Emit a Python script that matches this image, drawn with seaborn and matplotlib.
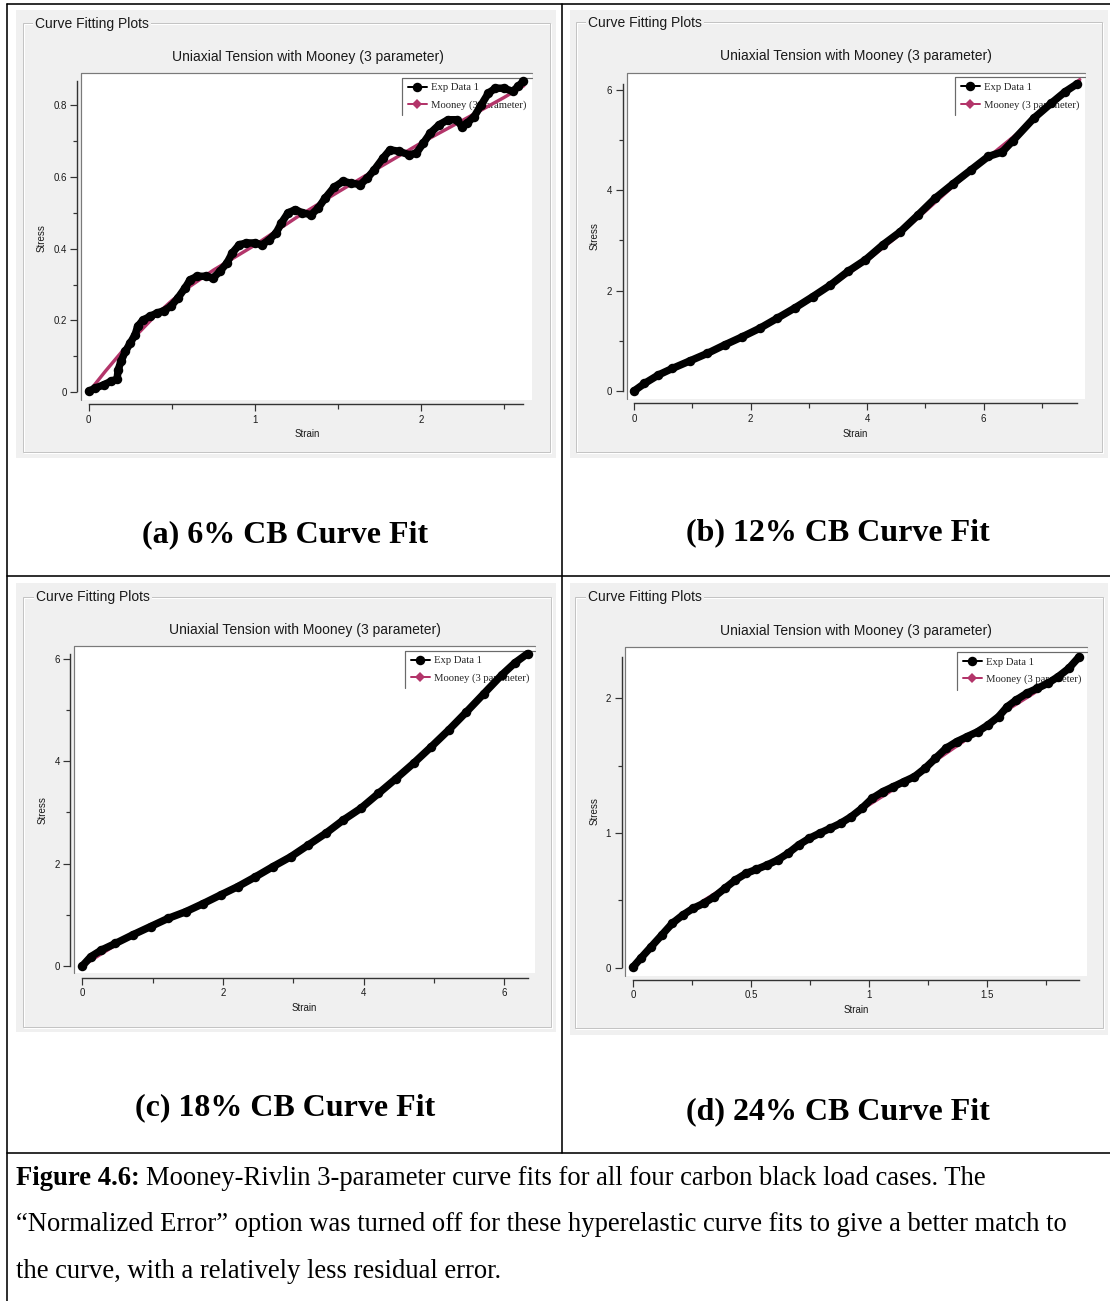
import matplotlib
matplotlib.use("Agg")
import matplotlib.pyplot as plt
from matplotlib.lines import Line2D
from matplotlib.patches import Rectangle
from matplotlib.ticker import MultipleLocator, FuncFormatter
import pandas as pd
import seaborn as sns

# ---------------------------------------------------------------- data
# 6% carbon black
strain_06 = [0, 0.04, 0.09, 0.135, 0.17, 0.177, 0.194, 0.22, 0.25, 0.279, 0.294, 0.325,
             0.367, 0.41, 0.452, 0.494, 0.536, 0.579, 0.61, 0.652, 0.705, 0.748, 0.79,
             0.832, 0.864, 0.906, 0.949, 1.0, 1.043, 1.086, 1.128, 1.16, 1.2, 1.244,
             1.286, 1.339, 1.381, 1.423, 1.476, 1.53, 1.58, 1.635, 1.677, 1.719, 1.772,
             1.814, 1.867, 1.93, 1.973, 2.015, 2.057, 2.11, 2.163, 2.216, 2.247, 2.279,
             2.321, 2.364, 2.406, 2.448, 2.5, 2.553, 2.585, 2.617]
stress_06 = [0.002, 0.011, 0.02, 0.03, 0.036, 0.062, 0.086, 0.113, 0.137, 0.16, 0.183, 0.2,
             0.211, 0.22, 0.227, 0.239, 0.262, 0.29, 0.313, 0.323, 0.323, 0.318, 0.337,
             0.36, 0.388, 0.411, 0.416, 0.416, 0.411, 0.425, 0.444, 0.472, 0.5, 0.509,
             0.5, 0.495, 0.513, 0.541, 0.571, 0.588, 0.583, 0.579, 0.597, 0.62, 0.653,
             0.676, 0.672, 0.662, 0.667, 0.695, 0.723, 0.746, 0.76, 0.76, 0.741, 0.751,
             0.769, 0.802, 0.834, 0.848, 0.848, 0.839, 0.853, 0.867]
fit_strain_06 = [0, 0.1, 0.2, 0.3, 0.4, 0.5, 0.6, 0.75, 1.0, 1.25, 1.5, 1.75, 2.0, 2.25, 2.5, 2.62]
fit_stress_06 = [0, 0.058, 0.113, 0.165, 0.213, 0.255, 0.292, 0.34, 0.41, 0.487, 0.558,
                 0.627, 0.695, 0.758, 0.822, 0.855]

# 12% carbon black
strain_12 = [0, 0.18, 0.42, 0.66, 0.96, 1.26, 1.56, 1.86, 2.16, 2.46, 2.77, 3.07, 3.37,
             3.67, 3.97, 4.27, 4.57, 4.87, 5.17, 5.48, 5.78, 6.08, 6.32, 6.5, 6.86, 7.16,
             7.4, 7.61]
stress_12 = [0, 0.15, 0.32, 0.45, 0.6, 0.75, 0.92, 1.08, 1.25, 1.45, 1.66, 1.88, 2.11,
             2.38, 2.61, 2.91, 3.17, 3.5, 3.84, 4.13, 4.4, 4.67, 4.76, 4.98, 5.43, 5.73,
             5.96, 6.12]
fit_strain_12 = [0, 0.5, 1, 1.5, 2, 2.5, 3, 3.5, 4, 4.5, 5, 5.5, 6, 6.5, 7, 7.65]
fit_stress_12 = [0, 0.34, 0.63, 0.9, 1.16, 1.47, 1.81, 2.19, 2.6, 3.06, 3.58, 4.1, 4.58,
                 5.05, 5.55, 6.2]

# 18% carbon black
strain_18 = [0, 0.12, 0.27, 0.47, 0.72, 0.97, 1.22, 1.47, 1.72, 1.97, 2.21, 2.46, 2.71,
             2.96, 3.21, 3.46, 3.71, 3.96, 4.21, 4.46, 4.71, 4.96, 5.21, 5.46, 5.71, 5.96,
             6.15, 6.33]
stress_18 = [0, 0.18, 0.31, 0.44, 0.61, 0.77, 0.93, 1.06, 1.22, 1.39, 1.55, 1.74, 1.94,
             2.13, 2.36, 2.59, 2.85, 3.08, 3.37, 3.66, 3.96, 4.28, 4.61, 4.96, 5.32, 5.68,
             5.92, 6.1]
fit_strain_18 = [0, 0.25, 0.5, 1, 1.5, 2, 2.5, 3, 3.5, 4, 4.5, 5, 5.5, 6, 6.33]
fit_stress_18 = [0, 0.22, 0.43, 0.77, 1.08, 1.41, 1.78, 2.17, 2.63, 3.12, 3.68, 4.31, 5.0,
                 5.71, 6.12]

# 24% carbon black
strain_24 = [0, 0.031, 0.076, 0.121, 0.165, 0.21, 0.254, 0.299, 0.344, 0.388, 0.433, 0.478,
             0.522, 0.567, 0.612, 0.656, 0.701, 0.746, 0.79, 0.835, 0.879, 0.924, 0.969,
             1.013, 1.058, 1.103, 1.147, 1.192, 1.237, 1.281, 1.326, 1.371, 1.415, 1.46,
             1.504, 1.549, 1.586, 1.624, 1.668, 1.713, 1.757, 1.802, 1.847, 1.891]
stress_24 = [0.007, 0.069, 0.156, 0.243, 0.329, 0.391, 0.441, 0.478, 0.527, 0.589, 0.651,
             0.7, 0.73, 0.762, 0.8, 0.849, 0.911, 0.96, 0.998, 1.035, 1.072, 1.121, 1.183,
             1.257, 1.307, 1.344, 1.381, 1.418, 1.48, 1.554, 1.629, 1.678, 1.715, 1.752,
             1.802, 1.864, 1.938, 1.988, 2.037, 2.074, 2.111, 2.161, 2.223, 2.309]
fit_strain_24 = [0, 0.1, 0.2, 0.3, 0.4, 0.5, 0.6, 0.7, 0.8, 0.9, 1.0, 1.1, 1.2, 1.3, 1.4,
                 1.5, 1.6, 1.7, 1.8, 1.89]
fit_stress_24 = [0, 0.2, 0.37, 0.5, 0.61, 0.71, 0.8, 0.9, 1.0, 1.1, 1.21, 1.32, 1.44, 1.56,
                 1.68, 1.8, 1.93, 2.04, 2.16, 2.29]

captions = ["(a) 6% CB Curve Fit", "(b) 12% CB Curve Fit",
            "(c) 18% CB Curve Fit", "(d) 24% CB Curve Fit"]
group_heading = "Curve Fitting Plots"
plot_title = "Uniaxial Tension with Mooney (3 parameter)"
legend_labels = ["Exp Data 1", "Mooney (3 parameter)"]
x_label, y_label = "Strain", "Stress"
figure_label = "Figure 4.6:"
figure_text = [
    "Mooney-Rivlin 3-parameter curve fits for all four carbon black load cases. The",
    "\u201cNormalized Error\u201d option was turned off for these hyperelastic curve fits to give a better match to",
    "the curve, with a relatively less residual error.",
]

# ---------------------------------------------------------------- style
W, H, DPI = 1110, 1301, 100
SANS = ["Liberation Sans", "DejaVu Sans"]
SERIF = ["Liberation Serif", "DejaVu Serif"]
PANEL_BG = "#f0f0f0"
FIT_COLOR = "#B3356A"
AXIS_COLOR = "#333333"

sns.set_style("white")
plt.rcParams["font.family"] = SANS

fig = plt.figure(figsize=(W / DPI, H / DPI), dpi=DPI)
fig.patch.set_facecolor("white")


def fx(x):
    return x / W


def fy(y):
    return 1 - y / H


def px_rect(x0, y0, x1, y1, **kw):
    r = Rectangle((fx(x0), fy(y1)), fx(x1) - fx(x0), fy(y0) - fy(y1),
                  transform=fig.transFigure, **kw)
    fig.add_artist(r)
    return r


def px_line(xs, ys, **kw):
    ln = Line2D([fx(x) for x in xs], [fy(y) for y in ys], transform=fig.transFigure, **kw)
    fig.add_artist(ln)
    return ln


def pts(px):
    return px * 72.0 / DPI


panels = [
    dict(strain=strain_06, stress=stress_06, fit_x=fit_strain_06, fit_y=fit_stress_06,
         bg=(16, 10, 556, 458), box=(23, 23, 550, 452), head=(35, 24), title=(308, 57),
         plot=(81, 73, 532, 400), xlim=(-0.047, 2.669), ylim=(-0.0224, 0.8905),
         xmaj=1, xmin=0.5, ymaj=0.2, ymin=0.1, ylab=(42, 238), xlab=(307, 434),
         cap=(285, 535)),
    dict(strain=strain_12, stress=stress_12, fit_x=fit_strain_12, fit_y=fit_stress_12,
         bg=(570, 10, 1108, 458), box=(576, 22, 1102, 452), head=(588, 23), title=(856, 56),
         plot=(626.7, 72.7, 1085, 399), xlim=(-0.125, 7.74), ylim=(-0.159, 6.338),
         xmaj=2, xmin=1, ymaj=2, ymin=1, ylab=(595, 236), xlab=(855, 434),
         cap=(838, 533)),
    dict(strain=strain_18, stress=stress_18, fit_x=fit_strain_18, fit_y=fit_stress_18,
         bg=(16, 583, 556, 1032), box=(23, 597, 551, 1027), head=(36, 597), title=(305, 630),
         plot=(74.2, 646, 535, 973.3), xlim=(-0.115, 6.435), ylim=(-0.1425, 6.248),
         xmaj=2, xmin=1, ymaj=2, ymin=1, ylab=(43, 810), xlab=(304, 1008),
         cap=(285, 1108)),
    dict(strain=strain_24, stress=stress_24, fit_x=fit_strain_24, fit_y=fit_stress_24,
         bg=(570, 583, 1108, 1035), box=(575, 597, 1103, 1028), head=(588, 597), title=(856, 631),
         plot=(625.3, 647.3, 1087, 975.7), xlim=(-0.0339, 1.924), ylim=(-0.0594, 2.379),
         xmaj=0.5, xmin=0.25, ymaj=1, ymin=0.5, ylab=(595, 811), xlab=(856, 1010),
         cap=(838, 1112)),
]

fmt = FuncFormatter(lambda v, p: f"{v:g}")
legends = []

for i, p in enumerate(panels):
    # window-style group box
    px_rect(*p["bg"], facecolor=PANEL_BG, edgecolor="none", zorder=-3)
    bx0, by0, bx1, by1 = p["box"]
    px_rect(bx0 + 1, by0 + 1, bx1 + 1, by1 + 1, facecolor="none", edgecolor="white",
            lw=pts(1), zorder=-2)
    px_rect(bx0, by0, bx1, by1, facecolor="none", edgecolor="#c4c4c4", lw=pts(1), zorder=-2)
    fig.text(fx(p["head"][0]), fy(p["head"][1]), group_heading, fontsize=10, color="#1a1a1a",
             ha="left", va="center",
             bbox=dict(facecolor=PANEL_BG, edgecolor="none", pad=1.5))
    fig.text(fx(p["title"][0]), fy(p["title"][1]), plot_title, fontsize=10, color="#1a1a1a",
             ha="center", va="center")

    x0, y0, x1, y1 = p["plot"]
    ax = fig.add_axes([fx(x0), fy(y1), fx(x1) - fx(x0), fy(y0) - fy(y1)])
    ax.set_facecolor("white")
    px_line([x0, x0, x1], [y1, y0, y0], color="#7a7a7a", lw=pts(1.2), zorder=3)

    df = pd.DataFrame({"strain": p["strain"], "stress": p["stress"]})
    fit = pd.DataFrame({"strain": p["fit_x"], "stress": p["fit_y"]})
    sns.lineplot(data=fit, x="strain", y="stress", ax=ax, sort=False, estimator=None,
                 color=FIT_COLOR, lw=pts(3.4), zorder=2.5, legend=False)
    sns.lineplot(data=df, x="strain", y="stress", ax=ax, sort=False, estimator=None,
                 color="black", lw=pts(7.5), marker="o", markersize=pts(9.5),
                 markeredgecolor="black", markeredgewidth=0, solid_capstyle="round",
                 solid_joinstyle="round", zorder=3, legend=False)

    ax.set_xlim(*p["xlim"])
    ax.set_ylim(*p["ylim"])
    ax.set_xlabel("")
    ax.set_ylabel("")
    for s in ("top", "right"):
        ax.spines[s].set_visible(False)
    ax.spines["left"].set_position(("outward", pts(3.8)))
    ax.spines["bottom"].set_position(("outward", pts(4.3)))
    ax.spines["left"].set_bounds(min(p["stress"]), max(p["stress"]))
    ax.spines["bottom"].set_bounds(min(p["strain"]), max(p["strain"]))
    for s in ("left", "bottom"):
        ax.spines[s].set_color(AXIS_COLOR)
        ax.spines[s].set_linewidth(pts(1.4))
    ax.xaxis.set_major_locator(MultipleLocator(p["xmaj"]))
    ax.xaxis.set_minor_locator(MultipleLocator(p["xmin"]))
    ax.yaxis.set_major_locator(MultipleLocator(p["ymaj"]))
    ax.yaxis.set_minor_locator(MultipleLocator(p["ymin"]))
    ax.xaxis.set_major_formatter(fmt)
    ax.yaxis.set_major_formatter(fmt)
    ax.tick_params(which="both", direction="out", color=AXIS_COLOR, width=pts(1.2),
                   bottom=True, left=True, labelsize=7, labelcolor="#1a1a1a", pad=2.5)
    ax.tick_params(which="major", length=pts(7))
    ax.tick_params(which="minor", length=pts(4.5))

    fig.text(fx(p["ylab"][0]), fy(p["ylab"][1]), y_label, rotation=90, fontsize=7,
             color="#1a1a1a", ha="center", va="center")
    fig.text(fx(p["xlab"][0]), fy(p["xlab"][1]), x_label, fontsize=7,
             color="#1a1a1a", ha="center", va="center")

    handles = [
        Line2D([], [], color="black", lw=pts(2), marker="o", markersize=pts(9.5),
               markeredgewidth=0),
        Line2D([], [], color=FIT_COLOR, lw=pts(2), marker="D", markersize=pts(7),
               markeredgewidth=0),
    ]
    top_off = 4.5 / (y1 - y0)
    leg = ax.legend(handles, legend_labels, loc="upper right",
                    bbox_to_anchor=(1.0, 1.0 - top_off), borderaxespad=0,
                    prop=dict(family=SERIF, size=7.7), frameon=True, fancybox=False,
                    framealpha=1, facecolor="white", edgecolor="none",
                    handlelength=1.8, handletextpad=0.4, labelspacing=0.75,
                    borderpad=0.5, numpoints=1)
    leg.set_zorder(1.5)
    legends.append((ax, leg))

    fig.text(fx(p["cap"][0]), fy(p["cap"][1]), captions[i], family=SERIF,
             fontweight="bold", fontsize=23, ha="center", va="center", color="black")

# ---------------------------------------------------------------- table rules
rule = dict(color="black", lw=pts(1.6), zorder=5)
px_line([7, 1110], [4, 4], **rule)
px_line([7, 7], [4, 1301], **rule)
px_line([561.5, 561.5], [4, 1153], **rule)
px_line([7, 1110], [576, 576], **rule)
px_line([7, 1110], [1153, 1153], **rule)

# ---------------------------------------------------------------- figure caption
cap_size = 19.15
baselines = [1185, 1231, 1278]
label = fig.text(fx(16), fy(baselines[0]), figure_label, family=SERIF, fontweight="bold",
                 fontsize=cap_size, ha="left", va="baseline", color="black")
fig.canvas.draw()
renderer = fig.canvas.get_renderer()
lab_w = label.get_window_extent(renderer).width
space_w = cap_size * DPI / 72 * 0.25
fig.text(fx(16 + lab_w + space_w), fy(baselines[0]), figure_text[0], family=SERIF,
         fontsize=cap_size, ha="left", va="baseline", color="black")
for t, b in zip(figure_text[1:], baselines[1:]):
    fig.text(fx(16), fy(b), t, family=SERIF, fontsize=cap_size, ha="left", va="baseline",
             color="black")

# legend frames: only the top and left edges are drawn
for ax, leg in legends:
    bb = leg.get_window_extent(renderer)
    X0, X1 = bb.x0 / W, bb.x1 / W
    Y0, Y1 = bb.y0 / H, bb.y1 / H
    edge = Line2D([X0, X0, X1], [Y0, Y1, Y1], transform=fig.transFigure,
                  color="#6a6a6a", lw=pts(1.2), zorder=1.6, clip_on=False)
    ax.add_artist(edge)

fig.savefig("out.png", dpi=DPI, facecolor="white")
